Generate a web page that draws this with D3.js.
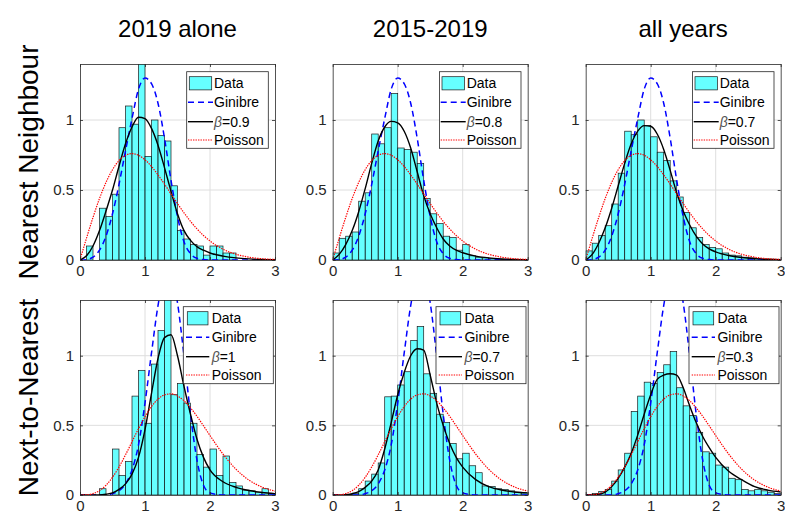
<!DOCTYPE html>
<html><head><meta charset="utf-8">
<script src="https://cdn.jsdelivr.net/npm/d3@7"></script>
<style>body{margin:0;background:#fff}</style>
</head><body><svg id="c" width="785" height="518"></svg>
<script>
// ---- data ----
const binLefts = [0,0.1,0.2,0.3,0.4,0.5,0.6,0.7,0.8,0.9,1.0,1.1,1.2,1.3,1.4,1.5,1.6,1.7,1.8,1.9,2.0,2.1,2.2,2.3,2.4,2.5,2.6,2.7,2.8,2.9];
const binWidth = 0.1;
const histNN2019 = [0,0.10,0,0.37,0.31,0.47,0.945,1.10,0.97,1.45,0.74,1.00,0.89,0.85,0.53,0.21,0.15,0.11,0.10,0.035,0.10,0.10,0.05,0.05,0,0,0,0,0,0];
const histNN1519 = [0.05,0.155,0.17,0.20,0.42,0.48,0.90,0.83,0.945,1.19,0.80,0.79,0.77,0.69,0.44,0.33,0.26,0.17,0.16,0.07,0.11,0.03,0.02,0.015,0.01,0.005,0.005,0,0,0];
const histNNAll  = [0.065,0.12,0.175,0.245,0.40,0.62,0.92,0.895,1.00,0.96,0.88,0.77,0.71,0.565,0.45,0.34,0.23,0.16,0.11,0.09,0.08,0.05,0.035,0.03,0.02,0.015,0.01,0.005,0.005,0];
const histNNN2019 = [0,0,0,0.045,0,0.33,0.14,0.24,0.71,0.895,0.515,0.94,1.18,1.45,0.72,0.80,0.66,0.515,0.29,0.20,0.33,0.14,0.28,0.09,0.065,0.035,0.03,0.02,0.045,0.01];
const histNNN1519 = [0,0,0.005,0.01,0.045,0.10,0.15,0.23,0.705,0.71,0.79,0.885,1.11,1.21,0.87,0.73,0.58,0.52,0.37,0.26,0.30,0.21,0.16,0.065,0.06,0.045,0.04,0.03,0.02,0.015];
const histNNNAll  = [0,0.01,0.025,0.04,0.10,0.18,0.30,0.60,0.71,0.81,0.80,0.88,0.935,1.03,0.77,0.64,0.57,0.45,0.31,0.30,0.215,0.20,0.12,0.11,0.04,0.03,0.04,0.03,0.02,0.01];

const sGrid = [0,0.1,0.2,0.3,0.4,0.5,0.6,0.7,0.8,0.9,1.0,1.1,1.2,1.3,1.4,1.5,1.6,1.7,1.8,1.9,2.0,2.2,2.4,2.6,2.8,3.0];
const ginibreNN  = [0,0.003,0.02,0.07,0.17,0.33,0.54,0.78,1.01,1.22,1.30,1.26,1.12,0.87,0.57,0.31,0.13,0.045,0.012,0.003,0,0,0,0,0,0];
const poissonNN  = [0,0.156,0.304,0.439,0.554,0.645,0.710,0.748,0.760,0.748,0.716,0.668,0.608,0.542,0.472,0.403,0.337,0.276,0.222,0.175,0.136,0.077,0.041,0.020,0.009,0.004];
const ginibreNNN = [0,0,0,0,0,0.01,0.03,0.08,0.18,0.36,0.66,1.02,1.36,1.58,1.62,1.38,1.0,0.58,0.25,0.07,0.015,0,0,0,0,0];
const poissonNNN = [0,0.001,0.010,0.031,0.070,0.127,0.201,0.288,0.382,0.476,0.562,0.635,0.688,0.719,0.726,0.711,0.677,0.626,0.565,0.497,0.427,0.294,0.185,0.107,0.057,0.028];
const fitNN2019  = [0,0.03,0.10,0.21,0.35,0.50,0.67,0.83,0.95,1.02,1.01,0.94,0.82,0.66,0.49,0.33,0.21,0.14,0.095,0.07,0.05,0.028,0.015,0.008,0.004,0.002];
const fitNN1519  = [0,0.04,0.11,0.21,0.345,0.51,0.69,0.85,0.95,0.99,0.98,0.92,0.80,0.63,0.46,0.33,0.23,0.15,0.10,0.07,0.052,0.028,0.015,0.008,0.004,0.002];
const fitNNAll   = [0,0.04,0.12,0.23,0.37,0.53,0.69,0.83,0.92,0.96,0.955,0.90,0.79,0.64,0.48,0.35,0.25,0.17,0.115,0.08,0.058,0.032,0.018,0.01,0.005,0.003];
const fitNNN2019 = [0,0,0,0,0.005,0.015,0.04,0.08,0.15,0.27,0.47,0.73,0.98,1.13,1.15,1.0,0.78,0.58,0.40,0.27,0.18,0.095,0.055,0.032,0.018,0.01];
const fitNNN1519 = [0,0,0.002,0.01,0.025,0.055,0.10,0.18,0.33,0.52,0.72,0.88,1.00,1.05,1.04,0.86,0.66,0.50,0.37,0.27,0.20,0.11,0.06,0.035,0.022,0.015];
const fitNNNAll  = [0,0.001,0.005,0.02,0.06,0.12,0.20,0.30,0.43,0.58,0.72,0.83,0.86,0.87,0.86,0.77,0.64,0.52,0.42,0.34,0.27,0.17,0.11,0.06,0.035,0.022];

const betaLabels = ["0.9","0.8","0.7","1","0.7","0.3"];
const colTitles = ["2019 alone","2015-2019","all years"];
const rowTitles = ["Nearest Neighbour","Next-to-Nearest"];
const legendNames = ["Data","Ginibre","\u03B2","Poisson"];
const xTicks = [0,1,2,3];
const yTicks = [0,0.5,1];

const hists = [histNN2019,histNN1519,histNNAll,histNNN2019,histNNN1519,histNNNAll];
const fits  = [fitNN2019,fitNN1519,fitNNAll,fitNNN2019,fitNNN1519,fitNNNAll];
const ginis = [ginibreNN,ginibreNNN];
const poiss = [poissonNN,poissonNNN];

// ---- layout ----
const svg = d3.select("#c");
const FONT = "'Liberation Sans', Arial, Helvetica, sans-serif";
const colX = [80,332.7,585.7];
const rowY = [[64,260],[300,495]];
const W = 195;

for (let r=0;r<2;r++){
  for (let c=0;c<3;c++){
    const idx = r*3+c;
    const x0 = colX[c], [yT,yB] = rowY[r];
    const x = d3.scaleLinear().domain([0,3]).range([x0,x0+W]);
    const y = d3.scaleLinear().domain([0,1.4]).range([yB,yT]);
    const g = svg.append("g");
    const cid = "clip"+idx;
    g.append("clipPath").attr("id",cid).append("rect")
      .attr("x",x0).attr("y",yT).attr("width",W).attr("height",yB-yT);
    // grid
    g.selectAll(".gx").data([1,2]).join("line")
      .attr("x1",d=>x(d)).attr("x2",d=>x(d)).attr("y1",yT).attr("y2",yB)
      .attr("stroke","#dedede").attr("stroke-width",1);
    g.selectAll(".gy").data([0.5,1]).join("line")
      .attr("y1",d=>y(d)).attr("y2",d=>y(d)).attr("x1",x0).attr("x2",x0+W)
      .attr("stroke","#dedede").attr("stroke-width",1);
    const pg = g.append("g").attr("clip-path",`url(#${cid})`);
    // bars
    const bars = binLefts.map((b,i)=>({b,v:hists[idx][i]})).filter(d=>d.v>0);
    pg.selectAll("rect.bar").data(bars).join("rect").attr("class","bar")
      .attr("x",d=>x(d.b)).attr("width",d=>x(d.b+binWidth)-x(d.b))
      .attr("y",d=>y(d.v)).attr("height",d=>yB-y(d.v))
      .attr("fill","#00ffff").attr("fill-opacity",0.6)
      .attr("stroke","#1a1a1a").attr("stroke-width",0.7);
    const line = d3.line().x(d=>x(d[0])).y(d=>y(d[1])).curve(d3.curveMonotoneX);
    const pts = arr => sGrid.map((s,i)=>[s,arr[i]]);
    pg.append("path").attr("d",line(pts(ginis[r]))).attr("fill","none")
      .attr("stroke","#0000ff").attr("stroke-width",1.5).attr("stroke-dasharray","6,4");
    pg.append("path").attr("d",line(pts(fits[idx]))).attr("fill","none")
      .attr("stroke","#000").attr("stroke-width",1.4);
    pg.append("path").attr("d",line(pts(poiss[r]))).attr("fill","none")
      .attr("stroke","#ff0000").attr("stroke-width",1.2).attr("stroke-dasharray","1.4,1.1");
    // axes
    const ax = [
      g.append("g").attr("transform",`translate(0,${yB})`).call(d3.axisBottom(x).tickValues(xTicks).tickFormat(d3.format("~g")).tickSizeInner(-3).tickSizeOuter(0).tickPadding(5)),
      g.append("g").attr("transform",`translate(${x0},0)`).call(d3.axisLeft(y).tickValues(yTicks).tickFormat(d3.format("~g")).tickSizeInner(-3).tickSizeOuter(0).tickPadding(6)),
      g.append("g").attr("transform",`translate(0,${yT})`).call(d3.axisTop(x).tickValues(xTicks).tickFormat("").tickSizeInner(-3).tickSizeOuter(0)),
      g.append("g").attr("transform",`translate(${x0+W},0)`).call(d3.axisRight(y).tickValues(yTicks).tickFormat("").tickSizeInner(-3).tickSizeOuter(0))
    ];
    ax.forEach(a=>{
      a.attr("font-family",FONT).attr("font-size",15);
      a.selectAll("path,line").attr("stroke","#262626").attr("stroke-width",0.8);
      a.selectAll("text").attr("fill","#262626");
    });
    // legend
    const L = r===0
      ? {bx:x0+106.7,by:yT+7.7,bw:81.6,bh:76.6,ey:[19.3,38.3,57.7,76],l1:x0+108,l2:x0+133,tx:x0+134}
      : {bx:x0+103.3,by:yT+6.7,bw:90,bh:77,ey:[18.3,37.3,56.7,75],l1:x0+106,l2:x0+129.3,tx:x0+131.7};
    const lg = g.append("g").attr("font-family",FONT).attr("font-size",14);
    lg.append("rect").attr("x",L.bx).attr("y",L.by).attr("width",L.bw).attr("height",L.bh)
      .attr("fill","#fff").attr("stroke","#262626").attr("stroke-width",0.8);
    const ey = L.ey.map(v=>yT+v);
    lg.append("rect").attr("x",L.l1+1.3).attr("y",ey[0]-6.6).attr("width",L.l2-L.l1-2.6).attr("height",13.2)
      .attr("fill","#00ffff").attr("fill-opacity",0.6).attr("stroke","#1a1a1a").attr("stroke-width",0.7);
    lg.append("line").attr("x1",L.l1).attr("x2",L.l2).attr("y1",ey[1]).attr("y2",ey[1])
      .attr("stroke","#0000ff").attr("stroke-width",1.5).attr("stroke-dasharray","6,4");
    lg.append("line").attr("x1",L.l1).attr("x2",L.l2).attr("y1",ey[2]).attr("y2",ey[2])
      .attr("stroke","#000").attr("stroke-width",1.4);
    lg.append("line").attr("x1",L.l1).attr("x2",L.l2).attr("y1",ey[3]).attr("y2",ey[3])
      .attr("stroke","#ff0000").attr("stroke-width",1.2).attr("stroke-dasharray","1.4,1.1");
    [0,1,3].forEach(k=>{
      lg.append("text").attr("x",L.tx).attr("y",ey[k]).attr("dy","0.36em").text(legendNames[k]);
    });
    const bt = lg.append("text").attr("x",L.tx).attr("y",ey[2]).attr("dy","0.36em");
    bt.append("tspan").attr("font-style","italic").attr("fill","#555").text(legendNames[2]);
    bt.append("tspan").text("="+betaLabels[idx]);
  }
}
// column titles
svg.selectAll("text.ct").data(colTitles).join("text").attr("class","ct")
  .attr("x",(d,i)=>colX[i]+W/2).attr("y",37).attr("text-anchor","middle")
  .attr("font-family",FONT).attr("font-size",24).attr("fill","#000").text(d=>d);
// row titles
svg.selectAll("text.rt").data(rowTitles).join("text").attr("class","rt")
  .attr("transform",(d,i)=>`translate(38,${(rowY[i][0]+rowY[i][1])/2}) rotate(-90)`)
  .attr("text-anchor","middle")
  .attr("font-family",FONT).attr("font-size",28).attr("fill","#000").text(d=>d);
</script></body></html>
